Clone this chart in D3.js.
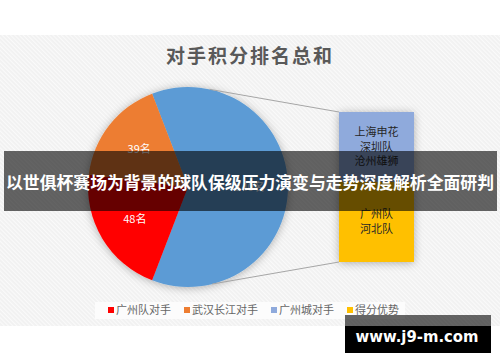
<!DOCTYPE html>
<html>
<head>
<meta charset="utf-8">
<script src="https://cdn.jsdelivr.net/npm/d3@7"></script>
<style>
  html, body { margin: 0; padding: 0; background: #fff; }
  svg { display: block; font-family: "Noto Sans CJK SC", "Noto Sans", sans-serif; }
</style>
</head>
<body>
<script>
// pie slices (main pie) and the split-out bar
const pieCats = ['广州城对手', '广州队对手', '武汉长江对手'];
const pieVals = [140, 48, 39];
const pieLabels = ['140名', '48名', '39名'];
const pieColors = ['#5b9bd5', '#ff0000', '#ed7d31'];

const barCats = [['广州队', '河北队'], ['上海申花', '深圳队', '沧州雄狮']];
const barVals = [75, 65];
const barColors = ['#ffc000', '#8faadc'];

const legendNames = ['广州队对手', '武汉长江对手', '广州城对手', '得分优势'];
const legendColors = ['#ff0000', '#ed7d31', '#8faadc', '#ffc000'];

const chartTitle = '对手积分排名总和';
const bannerText = '以世俱杯赛场为背景的球队保级压力演变与走势深度解析全面研判';
const markText = 'www.j9-m.com';

const W = 500, H = 362;
const svg = d3.select('body').append('svg')
    .attr('width', W)
    .attr('height', H);

const defs = svg.append('defs');
const pat = defs.append('pattern')
    .attr('id', 'hatch')
    .attr('width', 3).attr('height', 3)
    .attr('patternUnits', 'userSpaceOnUse')
    .attr('patternTransform', 'rotate(-45)');
pat.append('rect').attr('width', 3).attr('height', 3).attr('fill', '#f1f1f1');
pat.append('rect').attr('width', 1.2).attr('height', 3).attr('fill', '#fafafa');

const shadow = defs.append('filter').attr('id', 'shadow')
    .attr('x', '-20%').attr('y', '-20%').attr('width', '140%').attr('height', '140%');
shadow.append('feDropShadow')
    .attr('dx', 0).attr('dy', 1)
    .attr('stdDeviation', 4)
    .attr('flood-color', '#000')
    .attr('flood-opacity', 0.3);

// chart area background
svg.append('rect')
    .attr('x', 0).attr('y', 35)
    .attr('width', W).attr('height', 291)
    .attr('fill', 'url(#hatch)');

svg.append('text')
    .attr('x', 250).attr('y', 63)
    .attr('text-anchor', 'middle')
    .attr('font-size', 19)
    .attr('font-weight', 'bold')
    .attr('letter-spacing', 2)
    .attr('fill', '#595959')
    .text(chartTitle);

// pie
const cx = 188, cy = 187, r = 100;
const total = d3.sum(pieVals);
const otherFrac = pieVals[0] / total;
const start = Math.PI / 2 - otherFrac * Math.PI;

const pie = d3.pie().sort(null)
    .startAngle(start)
    .endAngle(start + 2 * Math.PI);
const arcs = pie(pieVals);
const arc = d3.arc().innerRadius(0).outerRadius(r);
const labelArc = d3.arc().innerRadius(r * 0.62).outerRadius(r * 0.62);

const gPie = svg.append('g').attr('transform', `translate(${cx},${cy})`);
gPie.append('g').attr('filter', 'url(#shadow)')
    .selectAll('path')
    .data(arcs)
    .join('path')
    .attr('d', arc)
    .attr('fill', (d, i) => pieColors[i]);

gPie.selectAll('text.lbl')
    .data(arcs)
    .join('text')
    .attr('class', 'lbl')
    .attr('transform', d => `translate(${labelArc.centroid(d)})`)
    .attr('text-anchor', 'middle')
    .attr('dy', '0.35em')
    .attr('font-size', 11)
    .attr('fill', '#fff')
    .text((d, i) => pieLabels[i]);

// split-out bar
const barX = 339, barW = 75;
const y = d3.scaleLinear()
    .domain([0, d3.sum(barVals)])
    .range([262, 112]);
const stacked = [];
let acc = 0;
barVals.forEach((v, i) => { stacked.push({ i, y0: acc, y1: acc + v }); acc += v; });

const gBar = svg.append('g');
gBar.append('g').attr('filter', 'url(#shadow)')
    .selectAll('rect')
    .data(stacked)
    .join('rect')
    .attr('x', barX)
    .attr('y', d => y(d.y1))
    .attr('width', barW)
    .attr('height', d => y(d.y0) - y(d.y1))
    .attr('fill', d => barColors[d.i]);

stacked.forEach(d => {
    const lines = barCats[d.i];
    const mid = (y(d.y0) + y(d.y1)) / 2;
    const t = gBar.append('text')
        .attr('text-anchor', 'middle')
        .attr('font-size', 11)
        .attr('fill', '#262626');
    lines.forEach((ln, k) => {
        t.append('tspan')
            .attr('x', barX + barW / 2)
            .attr('y', mid + (k - (lines.length - 1) / 2) * 14.5)
            .attr('dy', '0.35em')
            .text(ln);
    });
});

// connector lines from pie to bar
const aTop = 12.5 * Math.PI / 180, aBot = 166 * Math.PI / 180;
const conn = [
    [[cx + r * Math.sin(aTop), cy - r * Math.cos(aTop)], [barX, y(d3.sum(barVals))]],
    [[cx + r * Math.sin(aBot), cy - r * Math.cos(aBot)], [barX, y(0)]]
];
svg.selectAll('line.conn')
    .data(conn)
    .join('line')
    .attr('class', 'conn')
    .attr('x1', d => d[0][0]).attr('y1', d => d[0][1])
    .attr('x2', d => d[1][0]).attr('y2', d => d[1][1])
    .attr('stroke', '#a6a6a6')
    .attr('stroke-width', 1);

// legend
svg.append('rect')
    .attr('x', 95).attr('y', 302)
    .attr('width', 310).attr('height', 17)
    .attr('fill', '#fcfcfc');
const fs = 11;
let lx = 108;
const gLeg = svg.append('g');
legendNames.forEach((name, i) => {
    gLeg.append('rect')
        .attr('x', lx).attr('y', 307)
        .attr('width', 6).attr('height', 6)
        .attr('fill', legendColors[i]);
    gLeg.append('text')
        .attr('x', lx + 8).attr('y', 314)
        .attr('font-size', fs)
        .attr('fill', '#666')
        .text(name);
    lx += 8 + name.length * fs + 13;
});

// banner overlay
svg.append('rect')
    .attr('x', 4).attr('y', 151)
    .attr('width', 493).attr('height', 60)
    .attr('fill', 'rgba(0,0,0,0.6)');
svg.append('text')
    .attr('x', 250).attr('y', 189)
    .attr('text-anchor', 'middle')
    .attr('font-size', 17)
    .attr('font-weight', 'bold')
    .attr('fill', '#fff')
    .attr('textLength', 488)
    .attr('lengthAdjust', 'spacingAndGlyphs')
    .text(bannerText);

// watermark
svg.append('rect')
    .attr('x', 345).attr('y', 315)
    .attr('width', 146).attr('height', 11)
    .attr('fill', 'rgba(0,0,0,0.6)');
svg.append('rect')
    .attr('x', 345).attr('y', 326)
    .attr('width', 146).attr('height', 27)
    .attr('fill', '#000');
svg.append('text')
    .attr('x', 417).attr('y', 342)
    .attr('text-anchor', 'middle')
    .attr('font-family', 'DejaVu Sans, sans-serif')
    .attr('font-size', 16)
    .attr('font-weight', 'bold')
    .attr('fill', '#fff')
    .attr('textLength', 123)
    .attr('lengthAdjust', 'spacingAndGlyphs')
    .text(markText);
</script>
</body>
</html>
